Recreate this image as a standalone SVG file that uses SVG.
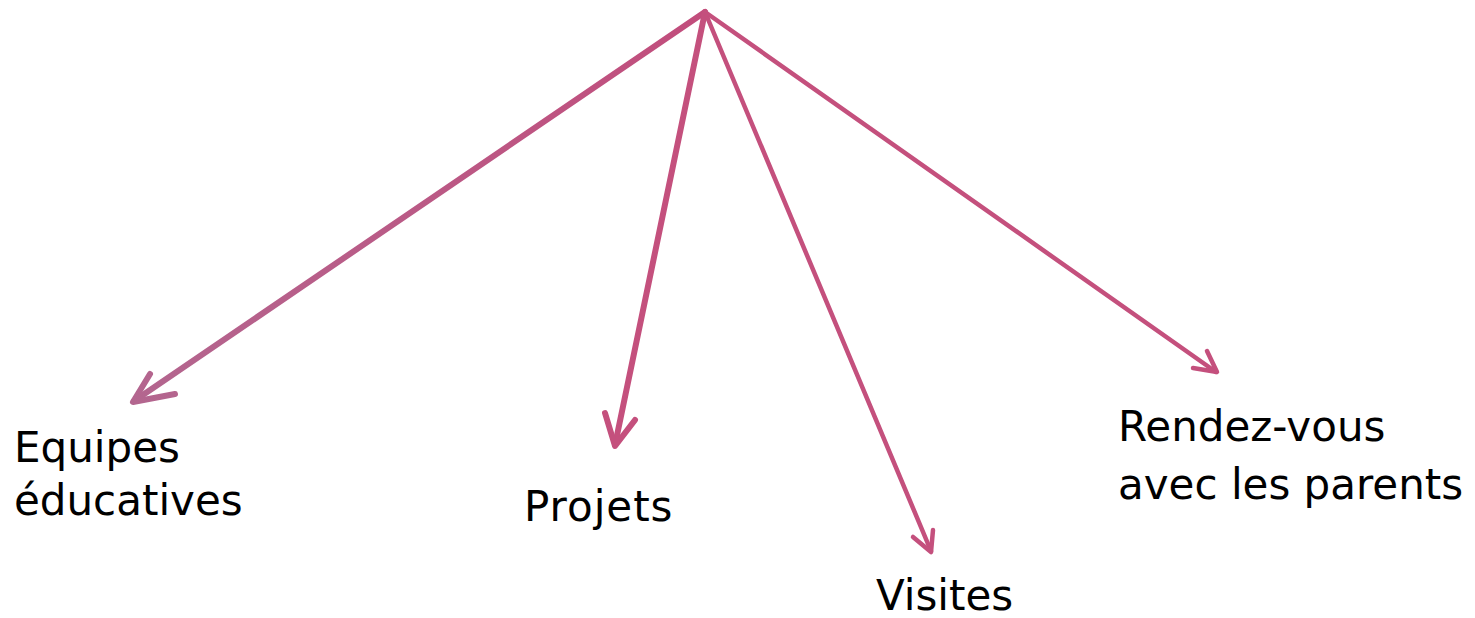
<svg xmlns="http://www.w3.org/2000/svg" width="1475" height="618" viewBox="0 0 1475 618">
<defs>
<linearGradient id="g1" gradientUnits="userSpaceOnUse" x1="705" y1="12" x2="133" y2="402">
<stop offset="0" stop-color="#c24d7c"/>
<stop offset="1" stop-color="#b3668f"/>
</linearGradient>
<style>
.c{fill:none;stroke:#c4507d;stroke-linecap:round;stroke-linejoin:round}
.t{font-family:"DejaVu Sans",sans-serif;font-size:42px;fill:#000}
</style>
</defs>
<rect width="1475" height="618" fill="#fff"/>
<g id="connectors">
<g id="c1" class="c" stroke-width="6" style="stroke:url(#g1)">
<line x1="705" y1="12" x2="134" y2="401"/>
<polyline points="150,374 133,402 175,394"/>
</g>
<g id="c2" class="c" stroke-width="6">
<line x1="705" y1="12" x2="615" y2="445"/>
<polyline points="605,413 615,446 635,420"/>
</g>
<g id="c3" class="c" stroke-width="4.5">
<line x1="705" y1="12" x2="931" y2="551"/>
<polyline points="913,537 931,552 933,530"/>
</g>
<g id="c4" class="c" stroke-width="4.5">
<line x1="705" y1="12" x2="1216" y2="372"/>
<polyline points="1207,351 1217,372 1193,368"/>
</g>
</g>
<g id="n1"><text class="t" x="14" y="462">Equipes</text><text class="t" x="14" y="515">éducatives</text></g>
<g id="n2"><text class="t" x="524" y="521" letter-spacing="1">Projets</text></g>
<g id="n3"><text class="t" x="876" y="610">Visites</text></g>
<g id="n4"><text class="t" x="1118" y="441">Rendez-vous</text><text class="t" x="1118" y="499">avec les parents</text></g>
</svg>
